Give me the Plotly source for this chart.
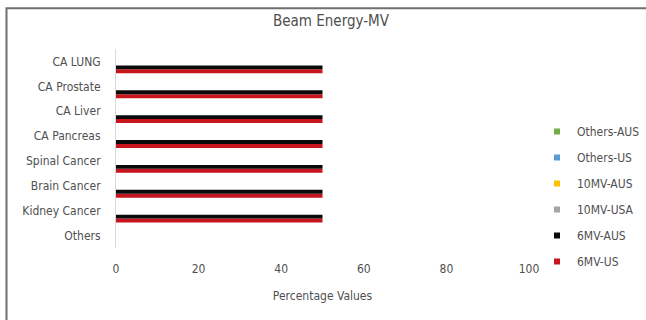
import plotly.graph_objects as go

# Categories listed top to bottom as they appear on the chart
categories = ["CA LUNG", "CA Prostate", "CA Liver", "CA Pancreas",
              "Spinal Cancer", "Brain Cancer", "Kidney Cancer", "Others"]

series_names = ["6MV-US", "6MV-AUS", "10MV-USA", "10MV-AUS", "Others-US", "Others-AUS"]
mv6_us = [50, 50, 50, 50, 50, 50, 50, 0]
mv6_aus = [50, 50, 50, 50, 50, 50, 50, 0]
mv10_usa = [0, 0, 0, 0, 0, 0, 0, 0]
mv10_aus = [0, 0, 0, 0, 0, 0, 0, 0]
others_us = [0, 0, 0, 0, 0, 0, 0, 0]
others_aus = [0, 0, 0, 0, 0, 0, 0, 0]
series_values = [mv6_us, mv6_aus, mv10_usa, mv10_aus, others_us, others_aus]
colors = ["#c8141c", "#0a0a0a", "#a5a5a5", "#ffc000", "#5b9bd5", "#70ad47"]

x_ticks = [0, 20, 40, 60, 80, 100]

FONT = "DejaVu Sans Condensed, Liberation Sans Narrow, Arial Narrow, sans-serif"
TXT = "#4f4f4f"

fig = go.Figure()
n = len(series_names)
for i, (name, vals, col) in enumerate(zip(series_names, series_values, colors)):
    fig.add_trace(go.Bar(
        y=categories, x=vals, name=name, orientation="h",
        marker=dict(color=col, line=dict(width=0)),
        showlegend=False, legendgroup=name,
    ))
    # small square legend key, last series listed first
    fig.add_trace(go.Scatter(
        x=[None], y=[None], mode="markers", name=name, legendgroup=name,
        legendrank=n - i,
        marker=dict(symbol="square", size=6, color=col),
    ))

W, H = 646, 320
ml, mr, mt, mb = 116, 117, 48.5, 71.5
pw, ph = W - ml - mr, H - mt - mb

def px_x(px):
    return (px - ml) / pw

def px_y(py):
    return (H - mb - py) / ph

fig.update_layout(
    width=W, height=H,
    margin=dict(l=ml, r=mr, t=mt, b=mb, pad=0, autoexpand=False),
    paper_bgcolor="white", plot_bgcolor="white",
    barmode="group", bargap=0.05, bargroupgap=0,
    font=dict(family=FONT, size=12, color=TXT),
    title=dict(text="Beam Energy-MV", x=331 / W, xanchor="center",
               y=1 - 21 / H, yanchor="middle",
               font=dict(family=FONT, size=15, color=TXT)),
    xaxis=dict(range=[0, 100], tickvals=x_ticks, showgrid=False, zeroline=False,
               showline=False, ticks="", ticklabelstandoff=12,
               tickfont=dict(size=12, color=TXT),
               title=dict(text="Percentage Values", standoff=16,
                          font=dict(size=12, color=TXT))),
    yaxis=dict(categoryorder="array", categoryarray=categories[::-1],
               showgrid=False, zeroline=False, showline=True,
               linecolor="#d9d9d9", linewidth=1, ticks="", ticklabelstandoff=12,
               tickfont=dict(size=12, color=TXT)),
    legend=dict(traceorder="grouped", tracegroupgap=7,
                xref="container", yref="container",
                x=537 / W, xanchor="left", y=1 - 117 / H, yanchor="top",
                bgcolor="rgba(0,0,0,0)", itemwidth=30,
                font=dict(size=12, color=TXT)),
    shapes=[dict(type="rect", xref="paper", yref="paper",
                 x0=px_x(6.5), x1=px_x(700), y0=px_y(400), y1=px_y(7.5),
                 line=dict(color="#6f6f6f", width=2), layer="below")],
)

fig.write_html("out.html")
